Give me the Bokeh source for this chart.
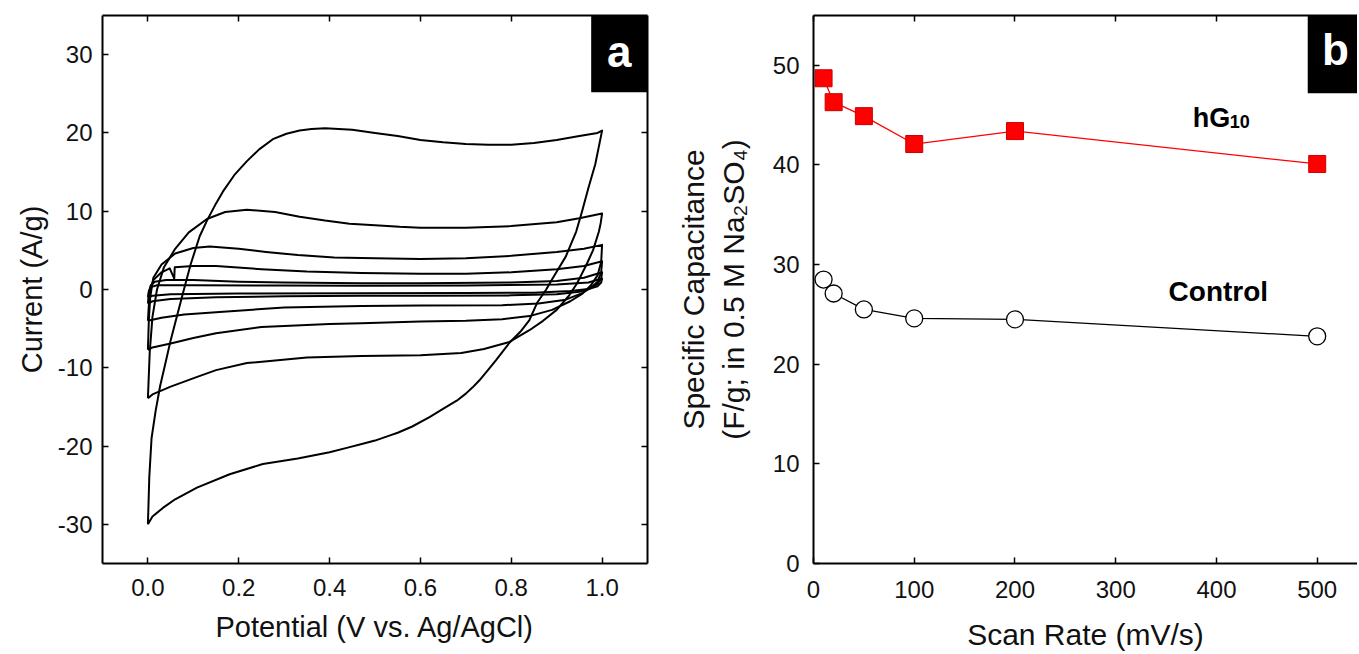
from bokeh.plotting import figure
from bokeh.layouts import row
from bokeh.models import (Range1d, FixedTicker, PrintfTickFormatter, LinearAxis,
                          BoxAnnotation, Label, ColumnDataSource)
from bokeh.embed import file_html
from bokeh.resources import INLINE

FONT = "Liberation Sans"

# ---------------- Panel a: cyclic voltammograms (potential V, current A/g) ----------------
cv_500_V = [0.000, 0.003, 0.008, 0.017, 0.027, 0.037, 0.050, 0.063, 0.078, 0.094, 0.114, 0.130, 0.150, 0.165,
            0.190, 0.218, 0.245, 0.275, 0.305, 0.334, 0.360, 0.390, 0.450, 0.500, 0.550, 0.600, 0.650, 0.700,
            0.750, 0.800, 0.850, 0.900, 0.950, 0.990, 1.000,
            0.985, 0.970, 0.956, 0.943, 0.920, 0.890, 0.877, 0.857, 0.840, 0.820, 0.796, 0.767, 0.750, 0.730,
            0.715, 0.700, 0.680, 0.657, 0.620, 0.582, 0.550, 0.530, 0.500, 0.473, 0.440, 0.400, 0.330, 0.253,
            0.180, 0.108, 0.060, 0.033, 0.010, 0.000]
cv_500_I = [-30.0, -24.0, -19.0, -15.5, -12.3, -9.8, -6.5, -3.6, -0.3, 3.2, 6.8, 8.8, 11.0, 12.5,
            14.6, 16.4, 17.9, 19.2, 19.9, 20.3, 20.5, 20.6, 20.4, 20.0, 19.6, 19.1, 18.8, 18.6,
            18.5, 18.5, 18.7, 19.1, 19.6, 20.0, 20.3,
            16.0, 13.0, 10.0, 7.4, 4.2, 1.3, 0.0, -1.7, -3.9, -5.4, -6.8, -9.0, -10.2, -11.6,
            -12.5, -13.3, -14.2, -15.0, -16.3, -17.5, -18.3, -18.7, -19.3, -19.7, -20.2, -20.8, -21.6, -22.3,
            -23.6, -25.3, -26.8, -27.9, -29.0, -30.0]

cv_200_V = [0.000, 0.004, 0.010, 0.020, 0.035, 0.060, 0.090, 0.130, 0.170, 0.218, 0.280, 0.334, 0.390, 0.444,
            0.500, 0.554, 0.600, 0.700, 0.800, 0.900, 0.950, 1.000,
            0.997, 0.993, 0.980, 0.965, 0.945, 0.927, 0.900, 0.870, 0.840, 0.796, 0.740, 0.690, 0.600,
            0.470, 0.350, 0.218, 0.150, 0.107, 0.050, 0.010, 0.000]
cv_200_I = [-13.9, -8.0, -3.5, 0.0, 2.8, 5.2, 7.3, 9.0, 9.9, 10.2, 9.9, 9.3, 8.8, 8.4,
            8.2, 8.0, 7.9, 7.9, 8.1, 8.6, 9.1, 9.7,
            8.5, 7.4, 5.0, 3.1, 0.8, -0.8, -2.6, -4.0, -5.2, -6.7, -7.6, -8.1, -8.4,
            -8.5, -8.7, -9.4, -10.3, -11.2, -12.4, -13.4, -13.9]

cv_100_V = [0.000, 0.002, 0.005, 0.012, 0.030, 0.060, 0.100, 0.136, 0.200, 0.260, 0.330, 0.410, 0.500, 0.600,
            0.700, 0.800, 0.900, 0.960, 1.000,
            0.998, 0.990, 0.975, 0.955, 0.930, 0.890, 0.840, 0.780, 0.700, 0.600, 0.470, 0.400, 0.250,
            0.150, 0.100, 0.050, 0.010, 0.000]
cv_100_I = [-7.7, -4.0, -1.0, 1.5, 3.2, 4.6, 5.3, 5.5, 5.2, 4.8, 4.4, 4.1, 4.0, 3.9,
            4.0, 4.3, 4.8, 5.2, 5.7,
            3.5, 1.8, 0.5, -0.6, -1.5, -2.6, -3.4, -3.8, -4.0, -4.1, -4.3, -4.4, -4.8,
            -5.6, -6.2, -6.9, -7.4, -7.7]

cv_50_V = [0.000, 0.002, 0.005, 0.012, 0.030, 0.048, 0.058, 0.059, 0.100, 0.150, 0.250, 0.350, 0.470, 0.600,
           0.700, 0.800, 0.900, 0.960, 1.000,
           0.998, 0.990, 0.975, 0.955, 0.920, 0.860, 0.780, 0.600, 0.470, 0.300, 0.150, 0.080, 0.030, 0.000]
cv_50_I = [-4.0, -2.0, 0.0, 1.2, 2.2, 2.7, 1.4, 2.85, 3.0, 3.0, 2.6, 2.3, 2.1, 2.0,
           2.0, 2.2, 2.6, 3.0, 3.6,
           2.2, 1.0, 0.2, -0.5, -1.3, -1.8, -2.0, -2.05, -2.1, -2.3, -2.9, -3.2, -3.6, -4.0]

cv_20_V = [0.000, 0.002, 0.006, 0.015, 0.040, 0.100, 0.200, 0.300, 0.470, 0.600, 0.800, 0.900, 0.960, 1.000,
           0.998, 0.990, 0.975, 0.950, 0.900, 0.800, 0.600, 0.470, 0.300, 0.150, 0.050, 0.010, 0.000]
cv_20_I = [-1.8, -0.5, 0.5, 1.0, 1.2, 1.2, 1.0, 0.9, 0.81, 0.8, 0.9, 1.1, 1.5, 2.2,
           1.4, 0.7, 0.2, -0.3, -0.6, -0.75, -0.8, -0.81, -0.85, -1.0, -1.2, -1.5, -1.8]

cv_10_V = [0.000, 0.002, 0.006, 0.020, 0.100, 0.300, 0.470, 0.700, 0.900, 0.970, 1.000,
           0.998, 0.990, 0.970, 0.930, 0.850, 0.700, 0.470, 0.200, 0.050, 0.010, 0.000]
cv_10_I = [-1.0, -0.2, 0.3, 0.55, 0.55, 0.5, 0.48, 0.5, 0.65, 0.9, 1.4,
           0.9, 0.4, 0.05, -0.2, -0.4, -0.46, -0.48, -0.5, -0.6, -0.8, -1.0]

potential_ticks = [0.0, 0.2, 0.4, 0.6, 0.8, 1.0]
current_ticks = [-30, -20, -10, 0, 10, 20, 30]

# ---------------- Panel b: specific capacitance vs scan rate ----------------
scan_rate = [10, 20, 50, 100, 200, 500]
hG10_capacitance = [48.7, 46.3, 44.9, 42.1, 43.4, 40.1]
control_capacitance = [28.5, 27.1, 25.5, 24.6, 24.5, 22.8]
scan_ticks = [0, 100, 200, 300, 400, 500]
cap_ticks = [0, 10, 20, 30, 40, 50]


def style_axis(ax, ticks, fmt, show_labels=True, label_standoff=12):
    ax.ticker = FixedTicker(ticks=ticks)
    ax.formatter = fmt
    ax.minor_tick_line_color = None
    ax.major_tick_in = 6
    ax.major_tick_out = 0
    ax.major_tick_line_width = 1.5
    ax.major_tick_line_color = "black"
    ax.axis_line_width = 2
    ax.axis_line_color = "black"
    ax.major_label_text_font = FONT
    ax.axis_label_text_font = FONT
    ax.axis_label_text_font_style = "normal"
    ax.axis_label_text_color = "#111111"
    if show_labels:
        ax.major_label_text_color = "#111111"
        ax.major_label_text_font_size = "24px"
        ax.major_label_standoff = label_standoff
    else:
        ax.major_label_text_color = None
        ax.major_label_text_font_size = "1px"
        ax.major_label_standoff = 0
        ax.axis_label = None


# ---- figure a ----
pa = figure(width=672, height=654, x_range=Range1d(-0.1, 1.1), y_range=Range1d(-35, 35),
            output_backend="svg", toolbar_location=None,
            min_border_left=102, min_border_right=25, min_border_top=15, min_border_bottom=91,
            x_axis_label="Potential (V vs. Ag/AgCl)", y_axis_label="Current (A/g)")
pa.grid.visible = False
pa.outline_line_color = None
pa.add_layout(LinearAxis(), "above")
pa.add_layout(LinearAxis(), "right")

style_axis(pa.below[0], potential_ticks, PrintfTickFormatter(format="%.1f"), label_standoff=15)
pa.below[0].axis_label_text_font_size = "29px"
pa.below[0].axis_label_standoff = 12
style_axis(pa.left[0], current_ticks, PrintfTickFormatter(format="%d"), label_standoff=10)
pa.left[0].axis_label_text_font_size = "29px"
pa.left[0].axis_label_standoff = 7
style_axis(pa.above[0], potential_ticks, PrintfTickFormatter(format="%.1f"), show_labels=False)
style_axis(pa.right[0], current_ticks, PrintfTickFormatter(format="%d"), show_labels=False)

cv_src = ColumnDataSource(data=dict(
    xs=[cv_500_V, cv_200_V, cv_100_V, cv_50_V, cv_20_V, cv_10_V],
    ys=[cv_500_I, cv_200_I, cv_100_I, cv_50_I, cv_20_I, cv_10_I],
))
pa.multi_line(xs="xs", ys="ys", source=cv_src, line_color="black", line_width=2.0,
              line_join="round")

pa.add_layout(BoxAnnotation(left=0.976, right=1.1, bottom=25.2, top=35,
                            fill_color="black", fill_alpha=1.0, line_color=None))
pa.add_layout(Label(x=1.038, y=30.0, y_offset=3, text="a", text_align="center",
                    text_baseline="middle", text_color="white", text_font=FONT,
                    text_font_style="bold", text_font_size="44px"))

# ---- figure b ----
pb = figure(width=685, height=654, x_range=Range1d(0, 540), y_range=Range1d(0, 55),
            output_backend="svg", toolbar_location=None,
            min_border_left=141, min_border_right=0, min_border_top=14, min_border_bottom=90,
            x_axis_label="Scan Rate (mV/s)",
            y_axis_label="Specific Capacitance\n(F/g; in 0.5 M Na\u2082SO\u2084)")
pb.grid.visible = False
pb.outline_line_color = None
pb.add_layout(LinearAxis(), "above")

style_axis(pb.below[0], scan_ticks, PrintfTickFormatter(format="%d"), label_standoff=17)
pb.below[0].axis_label_text_font_size = "30px"
pb.below[0].axis_label_standoff = 17
style_axis(pb.left[0], cap_ticks, PrintfTickFormatter(format="%d"), label_standoff=14)
pb.left[0].axis_label_text_font_size = "30px"
pb.left[0].axis_label_standoff = 20
style_axis(pb.above[0], scan_ticks, PrintfTickFormatter(format="%d"), show_labels=False)

src_b = ColumnDataSource(data=dict(rate=scan_rate, hg=hG10_capacitance, ctrl=control_capacitance))
pb.line("rate", "ctrl", source=src_b, line_color="black", line_width=1.3)
pb.scatter("rate", "ctrl", source=src_b, marker="circle", size=17, fill_color="white",
           line_color="black", line_width=1.3)
pb.line("rate", "hg", source=src_b, line_color="#ff0000", line_width=1.3)
pb.scatter("rate", "hg", source=src_b, marker="square", size=17, fill_color="#ff0000",
           line_color="#cc0000", line_width=1)

pb.add_layout(BoxAnnotation(left=490.6, right=540, bottom=47.2, top=55,
                            fill_color="black", fill_alpha=1.0, line_color=None))
pb.add_layout(Label(x=518, y=51.3, y_offset=3, text="b", text_align="center",
                    text_baseline="middle", text_color="white", text_font=FONT,
                    text_font_style="bold", text_font_size="44px"))
pb.add_layout(Label(x=376.4, y=43.7, y_offset=10, text="hG", text_align="left",
                    text_baseline="alphabetic", text_color="black", text_font=FONT,
                    text_font_style="bold", text_font_size="27px"))
pb.add_layout(Label(x=376.4, y=43.7, x_offset=37, y_offset=7, text="10", text_align="left",
                    text_baseline="alphabetic", text_color="black", text_font=FONT,
                    text_font_style="bold", text_font_size="18px"))
pb.add_layout(Label(x=352.5, y=26.3, y_offset=10, text="Control", text_align="left",
                    text_baseline="alphabetic", text_color="black", text_font=FONT,
                    text_font_style="bold", text_font_size="28px"))

layout = row(pa, pb)
open("out.html", "w").write(file_html(layout, INLINE))
